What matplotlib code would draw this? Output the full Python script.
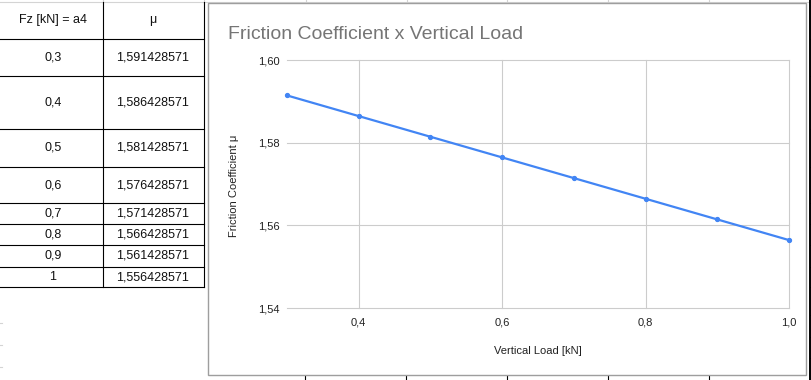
"""
Spreadsheet view: Fz / mu table with the friction coefficient chart beside it.
"""
import matplotlib.pyplot as plt
import matplotlib.ticker as mticker
from matplotlib.patches import Rectangle

plt.rcParams['font.family'] = ['Liberation Sans', 'DejaVu Sans']

# data (table values)
fz = [0.3, 0.4, 0.5, 0.6, 0.7, 0.8, 0.9, 1.0]
mu = [1.591428571, 1.586428571, 1.581428571, 1.576428571,
      1.571428571, 1.566428571, 1.561428571, 1.556428571]
header = ['Fz [kN] = a4', 'μ']
y_ticks = [1.54, 1.56, 1.58, 1.60]
x_ticks = [0.4, 0.6, 0.8, 1.0]

W, H = 812, 380
fig = plt.figure(figsize=(W / 100, H / 100), dpi=100)

# sheet layer in pixel coordinates (y down)
sheet = fig.add_axes([0, 0, 1, 1], zorder=0)
sheet.set_xlim(0, W)
sheet.set_ylim(H, 0)
sheet.axis('off')

grid_gray = '#d4d4d4'
row_lines = [39, 76, 129, 167, 203, 224, 245, 267, 287]
col_x = [103, 204]

# faint spreadsheet gridlines peeking out around the chart
for x in [103, 204, 306, 407, 507, 608, 709]:
    sheet.plot([x, x], [0, 3], color=grid_gray, lw=0.8)
sheet.plot([0, 812], [1.5, 1.5], color=grid_gray, lw=0.8)
for x in [305, 406, 507, 608, 709]:
    sheet.plot([x, x], [375, 380], color='black', lw=0.8)
for y in [323, 345, 367]:
    sheet.plot([0, 2], [y, y], color=grid_gray, lw=0.8)
for y in row_lines + [315, 337, 358]:
    sheet.plot([810, 812], [y, y], color='black', lw=0.8)
sheet.plot([810.5, 810.5], [0, H], color='black', lw=1.4)

# table borders
for y in row_lines:
    sheet.plot([0, 204], [y, y], color='black', lw=0.8)
for x in col_x:
    sheet.plot([x, x], [1.5, 287], color='black', lw=0.8)

# table text
tops = [1.5] + row_lines
centers = [(a + b) / 2 for a, b in zip(tops[:-1], tops[1:])]
sheet.text(53, centers[0], header[0], ha='center', va='center', fontsize=9, color='#111111')
sheet.text(153, centers[0], header[1], ha='center', va='center', fontsize=9, color='#111111')
for yc, f, m in zip(centers[1:], fz, mu):
    sheet.text(53, yc, f'{f:g}'.replace('.', ','), ha='center', va='center',
               fontsize=9, color='#111111')
    sheet.text(153, yc, f'{m:.9f}'.replace('.', ','), ha='center', va='center',
               fontsize=9, color='#111111')

# chart panel
sheet.add_patch(Rectangle((208, 3), 598, 372, facecolor='white',
                          edgecolor='#9e9e9e', lw=1.0, zorder=3))
sheet.text(228, 39, 'Friction Coefficient x Vertical Load', fontsize=14,
           color='#757575', va='baseline', ha='left', zorder=4)
sheet.text(234, 186, 'Friction Coefficient μ', rotation=90, fontsize=8,
           color='#222222', ha='center', va='center', zorder=4)
sheet.text(538, 351, 'Vertical Load [kN]', fontsize=8, color='#222222',
           ha='center', va='center', zorder=4)

# chart axes
left, right, top, bottom = 287, 789, 60, 308
ax = fig.add_axes([left / W, (H - bottom) / H, (right - left) / W, (bottom - top) / H],
                  zorder=5)
ax.patch.set_alpha(0)
ax.plot(fz, mu, color='#4285F4', lw=1.6, marker='o', markersize=2.8,
        solid_capstyle='round', clip_on=False)
ax.set_xlim(0.3, 1.0)
ax.set_ylim(1.54, 1.60)
ax.set_xticks(x_ticks)
ax.set_yticks(y_ticks)
ax.xaxis.set_major_formatter(mticker.FuncFormatter(lambda v, p: f'{v:.1f}'.replace('.', ',')))
ax.yaxis.set_major_formatter(mticker.FuncFormatter(lambda v, p: f'{v:.2f}'.replace('.', ',')))
ax.tick_params(length=0, labelsize=8, labelcolor='#222222')
ax.tick_params(axis='y', pad=5)
ax.tick_params(axis='x', pad=7)
ax.grid(True, color='#cccccc', lw=0.8)
ax.set_axisbelow(True)
for s in ax.spines.values():
    s.set_visible(False)
for gl in ax.get_xgridlines() + ax.get_ygridlines():
    gl.set_clip_on(False)

fig.savefig('out.png', dpi=100)
